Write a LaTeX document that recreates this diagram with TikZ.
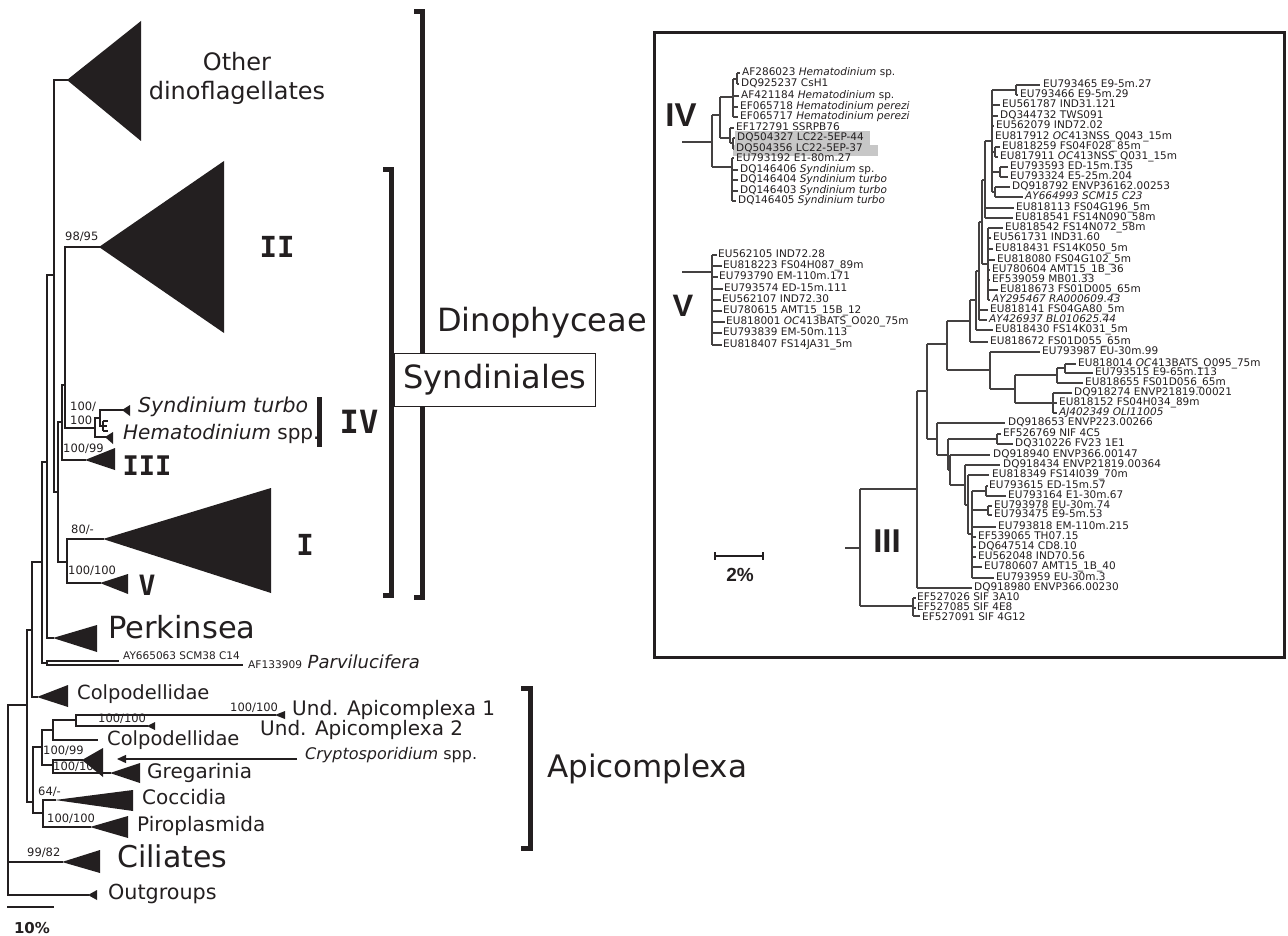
\documentclass[tikz,border=0pt]{standalone}
\usepackage{fontspec}
\setmainfont{DejaVu Sans}
\newfontfamily\monob{DejaVu Sans Mono}
\newfontfamily\arialf{Liberation Sans}
\usetikzlibrary{arrows.meta}
\definecolor{ink}{HTML}{231F20}
\newcommand{\fsz}[1]{\fontsize{#1}{#1}\selectfont}
\begin{document}
\begin{tikzpicture}[x=1pt,y=-1pt,
  br/.style={draw=ink, line width=2.3pt, line cap=rect},
  thinbr/.style={draw=ink, line width=1.3pt},
  tri/.style={fill=ink},
  bs/.style={anchor=mid west, inner sep=0pt, text=ink, font=\fsz{11.5}},
  lab/.style={anchor=mid west, inner sep=0pt, text=ink},
  clade/.style={anchor=center, inner sep=0pt, text=ink, font={\monob\bfseries\fsz{#1}}},
  iclade/.style={anchor=center, inner sep=0pt, text=ink, font={\arialf\bfseries\fsz{#1}}},
  brk/.style={draw=ink, line width=5pt},
  ib/.style={draw=ink!85, line width=1.1pt},
  il/.style={anchor=mid west, inner sep=0pt, text=ink, font=\fsz{10.5}},
  arr/.style={draw=ink, line width=1.3pt, -{Triangle[length=9pt,width=8pt]}}
]
\useasboundingbox (0,0) rectangle (1288,936);
\fill[white] (0,0) rectangle (1288,936);

% ===================== LEFT TREE =====================
\draw[br] (8,705)--(8,895) (8,705)--(27,705) (8,862)--(62,862) (8,895)--(88,895);
\draw[br] (27,630)--(27,802) (27,630)--(32,630) (27,802)--(33,802);
\draw[br] (32,562)--(32,697) (32,562)--(42,562) (32,697)--(37,697);
\draw[br] (42,462)--(42,663) (42,462)--(47,462) (42,663)--(47,663);
\draw[br] (47,661)--(47,665) (47,661)--(118,661) (47,665)--(242,665);
\draw[br] (47,275)--(47,638) (47,275)--(54,275) (47,638)--(53,638);
\draw[br] (54,80)--(54,492) (54,80)--(67,80) (54,492)--(58,492);
\draw[br] (58,422)--(58,562) (58,422)--(62,422) (58,562)--(67,562);
\draw[br] (62,385)--(62,460) (62,385)--(65,385) (62,460)--(85,460);
\draw[br] (65,247)--(65,428) (65,247)--(99,247) (65,428)--(95,428);
\draw[br] (95,418)--(95,437) (95,418)--(100,418) (95,437)--(105,437);
\draw[br] (100,410)--(100,426) (100,410)--(122,410);
\draw[thinbr] (100,426)--(103,426) (103,421)--(103,431) (103,421)--(108,421) (103,426)--(107,426) (103,431)--(108,431);
\draw[br] (67,539)--(67,583) (67,539)--(103,539) (67,583)--(100,583);
\draw[br] (33,747)--(33,813) (33,747)--(42,747) (33,813)--(43,813);
\draw[br] (42,730)--(42,765) (42,730)--(53,730) (42,765)--(53,765);
\draw[br] (53,720)--(53,740) (53,720)--(76,720) (53,740)--(97,740);
\draw[br] (76,715)--(76,726) (76,715)--(275,715) (76,726)--(147,726);
\draw[br] (53,760)--(53,773) (53,760)--(82,760) (53,773)--(110,773);
\draw[br] (43,800)--(43,827) (43,800)--(55,800) (43,827)--(90,827);

% collapsed clades
\fill[tri] (67,80)--(141,21)--(141,141)--cycle;
\fill[tri] (99,247)--(224,161)--(224,333)--cycle;
\fill[tri] (122,410)--(130,405)--(130,416)--cycle;
\fill[tri] (105,437)--(113,432)--(113,444)--cycle;
\fill[tri] (85,460)--(115,448)--(115,470)--cycle;
\fill[tri] (103,539)--(271,488)--(271,593)--cycle;
\fill[tri] (100,583)--(128,574)--(128,594)--cycle;
\fill[tri] (53,638)--(97,625)--(97,652)--cycle;
\fill[tri] (37,697)--(68,685)--(68,707)--cycle;
\fill[tri] (275,715)--(285,711)--(285,719)--cycle;
\fill[tri] (147,726)--(155,722)--(155,730)--cycle;
\fill[tri] (82,760)--(103,748)--(103,777)--cycle;
\fill[tri] (110,773)--(140,763)--(140,783)--cycle;
\fill[tri] (55,800)--(133,790)--(133,811)--cycle;
\fill[tri] (90,827)--(128,816)--(128,838)--cycle;
\fill[tri] (62,862)--(100,850)--(100,873)--cycle;
\fill[tri] (88,895)--(97,890)--(97,900)--cycle;

% bootstrap values
\node[bs] (b1) at (65,238) {98/95};
\node[bs] (b2) at (70,408) {100/};
\node[bs] (b3) at (70,422) {100};
\node[bs] (b4) at (63,450) {100/99};
\node[bs] (b5) at (71,531) {80/-};
\node[bs] (b6) at (68,572) {100/100};
\node[bs] (b7) at (230,709) {100/100};
\node[bs] (b8) at (98,720) {100/100};
\node[bs] (b9) at (43,752) {100/99};
\node[bs] (b10) at (53,768) {100/100};
\node[bs] (b11) at (38,793) {64/-};
\node[bs] (b12) at (47,820) {100/100};
\node[bs] (b13) at (27,854) {99/82};

% taxon labels
\node[lab, anchor=mid, font=\fsz{24}] (oth1) at (237,68) {Other};
\node[lab, anchor=mid, font=\fsz{24}] (oth2) at (237,97) {dinoflagellates};
\node[clade=29] (cII) at (277,247) {II};
\node[clade=32] (cIV) at (359,422) {IV};
\node[clade=27] (cIII) at (147,466) {III};
\node[clade=29] (cI) at (305,545) {I};
\node[clade=28] (cV) at (147,585) {V};
\node[lab, font=\fsz{20.5}] (synt) at (138,410) {\textit{Syndinium turbo}};
\node[lab, font=\fsz{20}] (hema) at (123,437) {\textit{Hematodinium} spp.};
\draw[line width=5pt, ink] (319,397)--(319,447);
\node[lab, font=\fsz{30.5}] (perk) at (108,636) {Perkinsea};
\node[lab, font=\fsz{10.5}] (ay66) at (123,657) {AY665063 SCM38 C14};
\node[lab, font=\fsz{18}] (parv) at (248,666) {{\fsz{10.6}AF133909} \textit{Parvilucifera}};
\node[lab, font=\fsz{19.5}] (colp1) at (77,697) {Colpodellidae};
\node[lab, font=\fsz{20}] (und1) at (292,713) {Und. Apicomplexa 1};
\node[lab, font=\fsz{20}] (und2) at (260,733) {Und. Apicomplexa 2};
\node[lab, font=\fsz{19.5}] (colp2) at (107,743) {Colpodellidae};
\node[lab, font=\fsz{16}] (crypto) at (305,757) {\textit{Cryptosporidium} spp.};
\coordinate (cryptotip) at (117,759);
\path (crypto.west) ++(-8,0) coordinate (cryptotail);
\draw[arr] (cryptotail |- cryptotip) -- (cryptotip);
\node[lab, font=\fsz{20}] (greg) at (147,776) {Gregarinia};
\node[lab, font=\fsz{20}] (cocc) at (142,802) {Coccidia};
\node[lab, font=\fsz{20}] (piro) at (137,829) {Piroplasmida};
\node[lab, font=\fsz{30}] (cili) at (117,865) {Ciliates};
\node[lab, font=\fsz{20.7}] (outg) at (108,897) {Outgroups};
\draw[br] (8,907)--(53,907);
\node[anchor=center, inner sep=0pt, text=ink, font=\bfseries\fsz{15}] (sc10) at (32,928) {10\%};

% brackets and group names
\draw[brk] (414,12)--(422,12)--(422,597)--(414,597);
\draw[brk] (383,170)--(391,170)--(391,595)--(383,595);
\draw[brk] (521,688)--(530,688)--(530,848)--(521,848);
\node[lab, font=\fsz{32}] (dino) at (437,329) {Dinophyceae};
\node[draw=ink, line width=1.2pt, fill=white, minimum width=201pt, minimum height=53pt, inner sep=0pt, text=ink, font=\fsz{32}] (synd) at (495,380) {Syndiniales};
\node[lab, font=\fsz{31}] (apic) at (547,775) {Apicomplexa};

% ===================== INSET =====================
\draw[draw=ink, line width=3pt] (654,33) rectangle (1284,657);
\fill[black!22] (735,131) rectangle (870,145);
\fill[black!22] (733,145) rectangle (878,156);

% clade IV
\draw[ib] (682,142)--(712,142) (712,115)--(712,167) (712,115)--(720,115)
  (720,97)--(720,138) (720,97)--(733,97) (733,79)--(733,117)
  (733,79)--(737,79) (737,73)--(737,84) (737,73)--(740,73) (737,84)--(739,84)
  (733,96)--(739,96) (733,107)--(738,107) (733,117)--(738,117)
  (720,138)--(730,138) (730,128)--(730,143) (730,128)--(734,128) (730,143)--(733,143)
  (733,138)--(733,149) (733,138)--(735,138) (733,149)--(734,149)
  (712,167)--(732,167) (732,158)--(732,201) (732,158)--(734,158) (732,170)--(738,170)
  (732,180)--(738,180) (732,191)--(738,191) (732,201)--(736,201);
\node[iclade=33] (iIV) at (681,115) {IV};
\node[il] (i1) at (742,73) {AF286023 \textit{Hematodinium} sp.};
\node[il] (i2) at (741,84) {DQ925237 CsH1};
\node[il] (i3) at (741,96) {AF421184 \textit{Hematodinium} sp.};
\node[il] (i4) at (740,107) {EF065718 \textit{Hematodinium perezi}};
\node[il] (i5) at (740,117) {EF065717 \textit{Hematodinium perezi}};
\node[il] (i6) at (736,128) {EF172791 SSRPB76};
\node[il] (i7) at (737,138) {DQ504327 LC22-5EP-44};
\node[il] (i8) at (736,149) {DQ504356 LC22-5EP-37};
\node[il] (i9) at (736,159) {EU793192 E1-80m.27};
\node[il] (i10) at (740,170) {DQ146406 \textit{Syndinium} sp.};
\node[il] (i11) at (740,180) {DQ146404 \textit{Syndinium turbo}};
\node[il] (i12) at (740,191) {DQ146403 \textit{Syndinium turbo}};
\node[il] (i13) at (738,201) {DQ146405 \textit{Syndinium turbo}};

% clade V
\draw[ib] (682,272)--(712,272) (712,255)--(712,345)
  (712,255)--(717,255) (712,266)--(722,266) (712,277)--(718,277) (712,289)--(723,289)
  (712,300)--(721,300) (712,311)--(722,311) (712,322)--(725,322) (712,333)--(722,333) (712,345)--(722,345);
\node[iclade=31] (iV) at (683,306) {V};
\node[il] (v1) at (718,255) {EU562105 IND72.28};
\node[il] (v2) at (723,266) {EU818223 FS04H087\_89m};
\node[il] (v3) at (719,277) {EU793790 EM-110m.171};
\node[il] (v4) at (724,289) {EU793574 ED-15m.111};
\node[il] (v5) at (722,300) {EU562107 IND72.30};
\node[il] (v6) at (723,311) {EU780615 AMT15\_15B\_12};
\node[il] (v7) at (726,322) {EU818001 \textit{OC}413BATS\_O020\_75m};
\node[il] (v8) at (723,333) {EU793839 EM-50m.113};
\node[il] (v9) at (723,345) {EU818407 FS14JA31\_5m};

% scale bar 2%
\draw[draw=ink, line width=2pt] (715,556)--(763,556);
\draw[draw=ink, line width=1.5pt] (715,552)--(715,560) (763,552)--(763,560);
\node[iclade=19] (sc2) at (740,575) {2\%};

% clade III
\node[iclade=33] (iIII) at (887,541) {III};
\draw[ib] (845,548)--(860,548) (860,489)--(860,606) (860,606)--(913,606)
  (913,598)--(913,616) (913,598)--(916,598) (913,608)--(916,608) (913,616)--(920,616)
  (860,489)--(917,489) (917,391)--(917,588) (917,588)--(972,588)
  (917,391)--(927,391) (927,344)--(927,439)
  (927,344)--(947,344) (947,321)--(947,370)
  (947,370)--(990,370) (990,352)--(990,389) (990,352)--(1040,352)
  (990,389)--(1015,389) (1015,375)--(1015,403) (1015,375)--(1057,375)
  (1057,368)--(1057,383) (1057,368)--(1065,368) (1065,364)--(1065,373)
  (1065,364)--(1076,364) (1065,373)--(1093,373) (1057,383)--(1083,383)
  (1015,403)--(1053,403) (1053,393)--(1053,413) (1053,393)--(1072,393)
  (1053,403)--(1057,403) (1053,413)--(1057,413);
\draw[ib] (947,321)--(970,321) (970,300)--(970,342) (970,342)--(988,342)
  (970,300)--(976,300) (976,271)--(976,330) (976,330)--(993,330)
  (976,271)--(979,271) (979,222)--(979,320) (979,310)--(988,310) (979,320)--(987,320)
  (979,222)--(982,222) (982,180)--(982,264) (982,264)--(988,264)
  (988,228)--(988,300) (988,228)--(1003,228) (988,238)--(991,238) (988,249)--(993,249)
  (988,260)--(995,260) (988,270)--(990,270) (988,280)--(990,280) (988,290)--(998,290) (988,300)--(990,300)
  (982,180)--(985,180) (985,141)--(985,218) (985,208)--(1014,208) (985,218)--(1013,218)
  (985,141)--(992,141) (992,90)--(992,192) (992,90)--(1016,90)
  (1016,85)--(1016,95) (1016,85)--(1040,85) (1016,95)--(1018,95)
  (992,105)--(1000,105) (992,116)--(998,116) (992,126)--(994,126) (992,138)--(993,138)
  (992,152)--(995,152) (995,147)--(995,157) (995,147)--(1000,147) (995,157)--(998,157)
  (992,172)--(1000,172) (1000,167)--(1000,177) (1000,167)--(1008,167) (1000,177)--(1008,177)
  (992,192)--(995,192) (995,187)--(995,197) (995,187)--(1010,187) (995,197)--(1023,197);
\draw[ib] (927,439)--(937,439) (937,423)--(937,455) (937,423)--(1005,423)
  (937,455)--(948,455) (948,439)--(948,470) (948,439)--(997,439)
  (997,434)--(997,444) (997,434)--(1001,434) (997,444)--(1013,444)
  (948,470)--(950,470) (950,455)--(950,485) (950,455)--(990,455)
  (950,485)--(965,485) (965,465)--(965,505) (965,465)--(1000,465)
  (965,505)--(968,505) (968,475)--(968,534) (968,475)--(989,475)
  (968,534)--(972,534) (972,491)--(972,578) (972,491)--(986,491)
  (986,486)--(986,496) (986,486)--(988,486) (986,496)--(1006,496)
  (972,510)--(988,510) (988,506)--(988,515) (988,506)--(992,506) (988,515)--(992,515)
  (972,527)--(996,527) (972,537)--(976,537) (972,547)--(976,547) (972,557)--(976,557)
  (972,567)--(982,567) (972,578)--(994,578);

\node[il] (t1) at (1043,85) {EU793465 E9-5m.27};
\node[il] (t2) at (1020,95) {EU793466 E9-5m.29};
\node[il] (t3) at (1002,105) {EU561787 IND31.121};
\node[il] (t4) at (1000,116) {DQ344732 TWS091};
\node[il] (t5) at (996,126) {EU562079 IND72.02};
\node[il] (t6) at (995,137) {EU817912 \textit{OC}413NSS\_Q043\_15m};
\node[il] (t7) at (1002,147) {EU818259 FS04F028\_85m};
\node[il] (t8) at (1000,157) {EU817911 \textit{OC}413NSS\_Q031\_15m};
\node[il] (t9) at (1010,167) {EU793593 ED-15m.135};
\node[il] (t10) at (1010,177) {EU793324 E5-25m.204};
\node[il] (t11) at (1012,187) {DQ918792 ENVP36162.00253};
\node[il] (t12) at (1025,197) {\textit{AY664993 SCM15 C23}};
\node[il] (t13) at (1016,208) {EU818113 FS04G196\_5m};
\node[il] (t14) at (1015,218) {EU818541 FS14N090\_58m};
\node[il] (t15) at (1005,228) {EU818542 FS14N072\_58m};
\node[il] (t16) at (993,238) {EU561731 IND31.60};
\node[il] (t17) at (995,249) {EU818431 FS14K050\_5m};
\node[il] (t18) at (997,260) {EU818080 FS04G102\_5m};
\node[il] (t19) at (992,270) {EU780604 AMT15\_1B\_36};
\node[il] (t20) at (992,280) {EF539059 MB01.33};
\node[il] (t21) at (1000,290) {EU818673 FS01D005\_65m};
\node[il] (t22) at (992,300) {\textit{AY295467 RA000609.43}};
\node[il] (t23) at (990,310) {EU818141 FS04GA80\_5m};
\node[il] (t24) at (989,320) {\textit{AY426937 BL010625.44}};
\node[il] (t25) at (995,330) {EU818430 FS14K031\_5m};
\node[il] (t26) at (990,342) {EU818672 FS01D055\_65m};
\node[il] (t27) at (1042,352) {EU793987 EU-30m.99};
\node[il] (t28) at (1078,364) {EU818014 \textit{OC}413BATS\_O095\_75m};
\node[il] (t29) at (1095,373) {EU793515 E9-65m.113};
\node[il] (t30) at (1085,383) {EU818655 FS01D056\_65m};
\node[il] (t31) at (1074,393) {DQ918274 ENVP21819.00021};
\node[il] (t32) at (1059,403) {EU818152 FS04H034\_89m};
\node[il] (t33) at (1059,413) {\textit{AJ402349 OLI11005}};
\node[il] (t34) at (1008,423) {DQ918653 ENVP223.00266};
\node[il] (t35) at (1003,434) {EF526769 NIF 4C5};
\node[il] (t36) at (1015,444) {DQ310226 FV23 1E1};
\node[il] (t37) at (993,455) {DQ918940 ENVP366.00147};
\node[il] (t38) at (1003,465) {DQ918434 ENVP21819.00364};
\node[il] (t39) at (992,475) {EU818349 FS14I039\_70m};
\node[il] (t40) at (989,486) {EU793615 ED-15m.57};
\node[il] (t41) at (1008,496) {EU793164 E1-30m.67};
\node[il] (t42) at (994,506) {EU793978 EU-30m.74};
\node[il] (t43) at (994,515) {EU793475 E9-5m.53};
\node[il] (t44) at (998,527) {EU793818 EM-110m.215};
\node[il] (t45) at (978,537) {EF539065 TH07.15};
\node[il] (t46) at (978,547) {DQ647514 CD8.10};
\node[il] (t47) at (978,557) {EU562048 IND70.56};
\node[il] (t48) at (984,567) {EU780607 AMT15\_1B\_40};
\node[il] (t49) at (996,578) {EU793959 EU-30m.3};
\node[il] (t50) at (974,588) {DQ918980 ENVP366.00230};
\node[il] (t51) at (917,598) {EF527026 SIF 3A10};
\node[il] (t52) at (917,608) {EF527085 SIF 4E8};
\node[il] (t53) at (922,618) {EF527091 SIF 4G12};
\end{tikzpicture}
\end{document}
